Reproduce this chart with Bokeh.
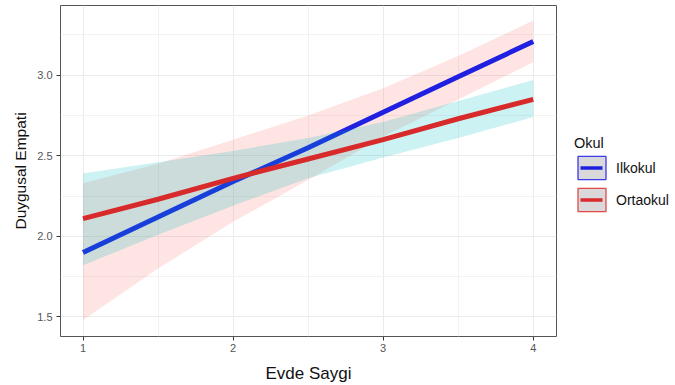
from bokeh.plotting import figure
from bokeh.layouts import row
from bokeh.models import (Range1d, FixedTicker, Legend, LegendItem, ColumnDataSource,
                          CustomJSTickFormatter)
from bokeh.embed import file_html
from bokeh.resources import INLINE

# ---- data ----
evde_saygi = [1.0, 1.5, 2.0, 2.5, 3.0, 3.5, 4.0]

ilkokul_fit = [1.90, 2.12, 2.34, 2.55, 2.77, 2.99, 3.21]
ilkokul_lower = [1.48, 1.80, 2.09, 2.35, 2.62, 2.85, 3.08]
ilkokul_upper = [2.33, 2.45, 2.60, 2.75, 2.92, 3.12, 3.34]

ortaokul_fit = [2.11, 2.23, 2.36, 2.48, 2.60, 2.73, 2.85]
ortaokul_lower = [1.82, 2.01, 2.19, 2.36, 2.49, 2.61, 2.74]
ortaokul_upper = [2.39, 2.46, 2.53, 2.61, 2.71, 2.84, 2.97]

groups = ["Ilkokul", "Ortaokul"]
x_ticks = [1, 2, 3, 4]
x_tick_labels = ["1", "2", "3", "4"]
x_minor = [1.5, 2.5, 3.5]
y_ticks = [1.5, 2.0, 2.5, 3.0]
y_tick_labels = ["1.5", "2.0", "2.5", "3.0"]
y_minor = [1.75, 2.25, 2.75, 3.25]

FONT = "Liberation Sans"
LINE_COLORS = {"Ilkokul": "#2020E0", "Ortaokul": "#D82A2A"}
BAND_COLORS = {"Ilkokul": "#F8766D", "Ortaokul": "#00BFC4"}
KEY_BORDER = {"Ilkokul": "#3A3AEE", "Ortaokul": "#E24A4A"}

p = figure(width=560, height=385, output_backend="svg", toolbar_location=None,
           x_range=Range1d(0.85, 4.155), y_range=Range1d(1.378, 3.433),
           min_border_left=60, min_border_right=4, min_border_top=5, min_border_bottom=48)
p.background_fill_color = "white"
p.border_fill_color = "white"
p.outline_line_color = "#555555"
p.outline_line_width = 1

data = {
    "Ilkokul": (ilkokul_fit, ilkokul_lower, ilkokul_upper),
    "Ortaokul": (ortaokul_fit, ortaokul_lower, ortaokul_upper),
}

# legend panel (separate figure to the right of the plot)
lf = figure(width=115, height=385, output_backend="svg", toolbar_location=None,
            x_range=Range1d(0, 1), y_range=Range1d(0, 1),
            min_border_left=0, min_border_right=0, min_border_top=0, min_border_bottom=0)
lf.axis.visible = False
lf.grid.visible = False
lf.outline_line_color = None
lf.background_fill_color = "white"
lf.border_fill_color = "white"

nan = float("nan")
items = []
for g in groups:
    fit, lo, hi = data[g]
    src = ColumnDataSource(dict(x=evde_saygi, fit=fit, lo=lo, hi=hi))
    p.varea(x="x", y1="lo", y2="hi", source=src, fill_color=BAND_COLORS[g], fill_alpha=0.2)
    p.line(x="x", y="fit", source=src, line_color=LINE_COLORS[g], line_width=5)
    # legend key renderers (styles only, nothing drawn)
    key_src = ColumnDataSource(dict(left=[nan], right=[nan], top=[nan], bottom=[nan],
                                    x=[nan], y=[nan]))
    kq = lf.quad(left="left", right="right", top="top", bottom="bottom", source=key_src,
                 fill_color="#D9D9DC", line_color=KEY_BORDER[g], line_width=1.3)
    kl = lf.line(x="x", y="y", source=key_src, line_color=LINE_COLORS[g], line_width=3.5,
                 line_dash="22 20", line_dash_offset=36)
    items.append(LegendItem(label=g, renderers=[kq, kl]))

JS = """
const i = tvals.findIndex(t => Math.abs(t - tick) < 1e-9);
return i >= 0 ? tlabels[i] : "";
"""
fmt_x = CustomJSTickFormatter(args=dict(tvals=x_ticks, tlabels=x_tick_labels), code=JS)
fmt_y = CustomJSTickFormatter(args=dict(tvals=y_ticks, tlabels=y_tick_labels), code=JS)

p.xaxis.ticker = FixedTicker(ticks=x_ticks, minor_ticks=x_minor)
p.yaxis.ticker = FixedTicker(ticks=y_ticks, minor_ticks=y_minor)
p.xaxis.formatter = fmt_x
p.yaxis.formatter = fmt_y

for ax in (p.xaxis, p.yaxis):
    ax.axis_line_color = None
    ax.minor_tick_line_color = None
    ax.major_tick_line_color = "#333333"
    ax.major_tick_out = 4
    ax.major_tick_in = 0
    ax.major_label_text_font = FONT
    ax.major_label_text_font_size = "11px"
    ax.major_label_text_color = "#555555"
    ax.axis_label_text_font = FONT
    ax.axis_label_text_font_style = "normal"
    ax.axis_label_text_color = "#111111"

p.xaxis.axis_label = "Evde Saygi"
p.xaxis.axis_label_text_font_size = "17px"
p.xaxis.major_label_standoff = 3
p.xaxis.axis_label_standoff = 9
p.yaxis.axis_label = "Duygusal Empati"
p.yaxis.axis_label_text_font_size = "15.5px"
p.yaxis.major_label_standoff = 4
p.yaxis.axis_label_standoff = 5

p.xgrid.grid_line_color = "#EBEBEB"
p.ygrid.grid_line_color = "#EBEBEB"
p.xgrid.minor_grid_line_color = "#F2F2F2"
p.ygrid.minor_grid_line_color = "#F2F2F2"

legend = Legend(items=items, location=(14, 122), title="Okul",
                title_text_font=FONT, title_text_font_size="14.5px", title_text_font_style="normal",
                title_text_color="#111111", title_standoff=2,
                label_text_font=FONT, label_text_font_size="14px", label_text_color="#111111",
                glyph_width=35, glyph_height=29, spacing=3, padding=0, margin=0,
                label_standoff=7, border_line_color=None, background_fill_alpha=0)
lf.add_layout(legend, "center")

layout = row(p, lf, spacing=0)
open("out.html", "w").write(file_html(layout, INLINE))
